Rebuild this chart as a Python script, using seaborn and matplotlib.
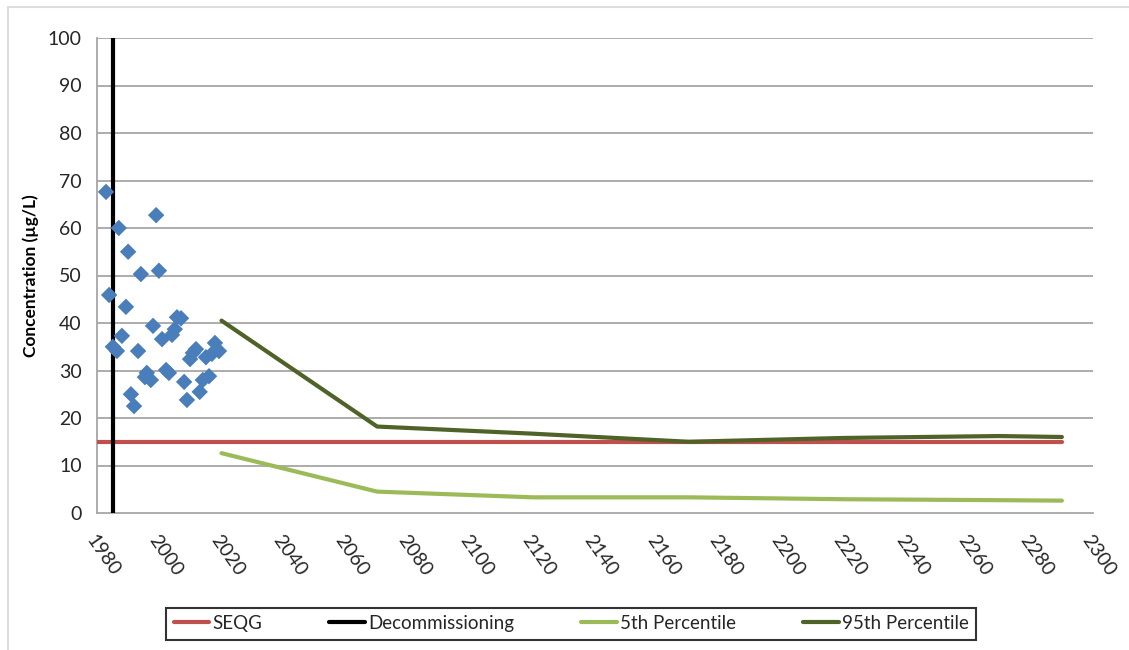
import numpy as np
import pandas as pd
import matplotlib
matplotlib.use("Agg")
import matplotlib.pyplot as plt
import seaborn as sns
from matplotlib.lines import Line2D

# ---- data ----
obs_years = [1982.9, 1983.9, 1985.1, 1986.4, 1987.0, 1988.0, 1989.3, 1990.0, 1990.9, 1991.9,
             1993.2, 1994.1, 1995.4, 1996.0, 1997.3, 1998.0, 1999.0, 1999.9, 2000.9, 2002.2,
             2003.1, 2004.1, 2005.0, 2005.7, 2007.0, 2008.0, 2008.9, 2009.9, 2010.8, 2011.8,
             2013.0, 2014.0, 2015.0, 2016.0, 2016.9, 2017.9, 2019.2]
obs_values = [67.6, 45.9, 35.0, 34.1, 60.0, 37.3, 43.4, 55.0, 25.0, 22.5,
              34.1, 50.3, 28.6, 29.5, 28.0, 39.4, 62.7, 51.0, 36.6, 30.1,
              29.5, 37.5, 38.7, 41.2, 41.0, 27.6, 23.8, 32.4, 33.7, 34.5,
              25.5, 28.0, 32.8, 28.8, 33.5, 35.8, 34.1]

seqg_years = [1980, 2290]
seqg_values = [15, 15]

decom_years = [1985.2, 1985.2]
decom_values = [0, 100]

pred_years = [2020, 2070, 2120, 2170, 2220, 2270, 2290]
p5_values = [12.6, 4.5, 3.3, 3.3, 2.9, 2.7, 2.6]
p95_values = [40.5, 18.2, 16.7, 15.0, 15.8, 16.2, 16.0]

x_ticks = list(range(1980, 2301, 20))
y_ticks = list(range(0, 101, 10))

# ---- style ----
sns.set_theme(style="white")
plt.rcParams['font.family'] = ['Lato', 'DejaVu Sans']

fig = plt.figure(figsize=(11.29, 6.5), dpi=100)
ax = fig.add_axes([97/1129, 1 - 513/650, (1093 - 97)/1129, (513 - 38)/650])

grid_c = '#A6A6A6'
for yv in y_ticks[1:]:
    ax.axhline(yv, color=grid_c, lw=1.3, zorder=0)

obs = pd.DataFrame({"year": obs_years, "value": obs_values})
seqg = pd.DataFrame({"year": seqg_years, "value": seqg_values})
decom = pd.DataFrame({"year": decom_years, "value": decom_values})
pred = pd.DataFrame({"year": pred_years, "p5": p5_values, "p95": p95_values})

sns.lineplot(data=seqg, x="year", y="value", ax=ax, color='#C0504D', lw=3, label='SEQG', zorder=3)
sns.lineplot(data=decom, x="year", y="value", ax=ax, color='black', lw=3, label='Decommissioning',
             zorder=3, estimator=None, sort=False)
sns.lineplot(data=pred, x="year", y="p5", ax=ax, color='#9BBB59', lw=3, label='5th Percentile', zorder=3)
sns.lineplot(data=pred, x="year", y="p95", ax=ax, color='#4F6228', lw=3, label='95th Percentile', zorder=3)
sns.scatterplot(data=obs, x="year", y="value", ax=ax, marker='D', s=70, color='#4A7EBB',
                edgecolor='none', zorder=4, legend=False)

ax.set_xlim(1980, 2300)
ax.set_ylim(0, 100)
ax.set_xticks(x_ticks)
ax.set_yticks(y_ticks)
ax.set_xticklabels([str(t) for t in x_ticks], rotation=-55, ha='left', va='top',
                   rotation_mode='anchor', fontsize=14, color='#262626')
ax.set_yticklabels([str(t) for t in y_ticks], fontsize=14, color='#262626')
ax.tick_params(axis='both', direction='out', length=6, width=1.2, color=grid_c, pad=5)
ax.tick_params(axis='x', pad=8)
ax.set_xlabel('')
ax.set_ylabel('Concentration (µg/L)', fontsize=12.5, fontweight='bold', color='black', labelpad=6)

for s in ['top', 'right']:
    ax.spines[s].set_visible(False)
for s in ['left', 'bottom']:
    ax.spines[s].set_color(grid_c)
    ax.spines[s].set_linewidth(1.3)

ax.get_legend().remove()
handles = [Line2D([], [], color='#C0504D', lw=3),
           Line2D([], [], color='black', lw=3),
           Line2D([], [], color='#9BBB59', lw=3),
           Line2D([], [], color='#4F6228', lw=3)]
labels = ['SEQG', 'Decommissioning', '5th Percentile', '95th Percentile']
leg = fig.legend(handles, labels, loc='center', bbox_to_anchor=(571/1129, 1 - 623.5/650),
                 ncol=4, frameon=True, fancybox=False, fontsize=13.5, handlelength=1.9,
                 handletextpad=0.15, columnspacing=3.6, borderpad=0.4, borderaxespad=0)
leg.get_frame().set_edgecolor('black')
leg.get_frame().set_linewidth(1.5)

# chart-area border (top & left visible)
fig.add_artist(Line2D([8/1129, 1], [1 - 7/650, 1 - 7/650], color='#DDDDDD', lw=1.5))
fig.add_artist(Line2D([8/1129, 8/1129], [0, 1 - 7/650], color='#DDDDDD', lw=1.5))

fig.savefig('out.png', dpi=100)
